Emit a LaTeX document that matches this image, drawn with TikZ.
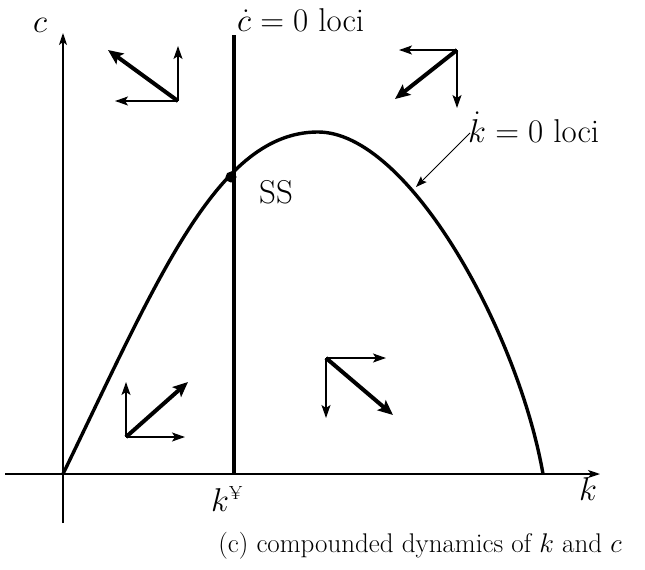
\RequirePackage{fix-cm}
\documentclass[tikz,border=0pt]{standalone}
\usetikzlibrary{arrows.meta}
\begin{document}
\begin{tikzpicture}[x=1pt,y=-1pt,
  axis/.style={line width=1.3pt,-{Stealth[length=12pt,width=8pt,inset=3pt]}},
  thin arr/.style={line width=1.6pt,-{Stealth[length=13pt,width=9pt,inset=3pt]}},
  thick arr/.style={line width=4pt,-{Stealth[length=15pt,width=13pt,inset=3pt]}},
  locus/.style={line width=3.4pt},
  lbl/.style={inner sep=0pt,font=\fontsize{33}{37}\selectfont},
  caplbl/.style={inner sep=0pt,font=\fontsize{27}{31}\selectfont}]
\useasboundingbox (0,0) rectangle (645,570);
% axes
\coordinate (xs) at (5,474);
\coordinate (xe) at (600,474);
\coordinate (ys) at (63,523);
\coordinate (ye) at (63,33);
\draw[axis] (xs) -- (xe);
\draw[axis] (ys) -- (ye);
\node[lbl] (cl) at (40,25) {$c$};
\node[lbl] (kl) at (588,489) {$k$};
% c-dot = 0 locus
\coordinate (vt) at (234,35);
\coordinate (vb) at (234,474);
\draw[locus] (vt) -- (vb);
\node[lbl,anchor=west] (cdot) at (237,20) {$\dot c=0$ loci};
\node[lbl] (kstar) at (227,499) {$k^{\mbox{\fontsize{19}{19}\selectfont ¥}}$};
% k-dot = 0 locus
\coordinate (o) at (63,474);
\coordinate (peak) at (318,132);
\coordinate (kend) at (543,474);
\draw[locus] (o) .. controls (159,276) and (218,132) .. (peak)
                 .. controls (408,132) and (518,331) .. (kend);
\node[lbl,anchor=west] (kdot) at (468,127) {$\dot k=0$ loci};
\coordinate (pt) at (416,187);
\draw[line width=1pt,-{Stealth[length=11pt,width=8pt,inset=2pt]}] (470,133) -- (pt);
% steady state
\node[circle,fill,inner sep=0pt,minimum size=11pt] (ss) at (231,177) {};
\node[lbl] (sslbl) at (276,192) {SS};
% top-left arrows
\coordinate (a1) at (178,101);
\draw[thin arr] (a1) -- (178,46);
\draw[thin arr] (a1) -- (115,101);
\draw[thick arr] (a1) -- (108,50);
% top-right arrows
\coordinate (a2) at (457,50);
\draw[thin arr] (a2) -- (399,50);
\draw[thin arr] (a2) -- (457,108);
\draw[thick arr] (a2) -- (395,99);
% bottom-left arrows
\coordinate (a3) at (126,437);
\draw[thin arr] (a3) -- (126,382);
\draw[thin arr] (a3) -- (185,437);
\draw[thick arr] (a3) -- (188,382);
% bottom-middle arrows
\coordinate (a4) at (326,358);
\draw[thin arr] (a4) -- (386,358);
\draw[thin arr] (a4) -- (326,418);
\draw[thick arr] (a4) -- (393,415);
% caption
\node[caplbl] (cap) at (420,546) {(c) compounded dynamics of $k$ and $c$};
\end{tikzpicture}
\end{document}
